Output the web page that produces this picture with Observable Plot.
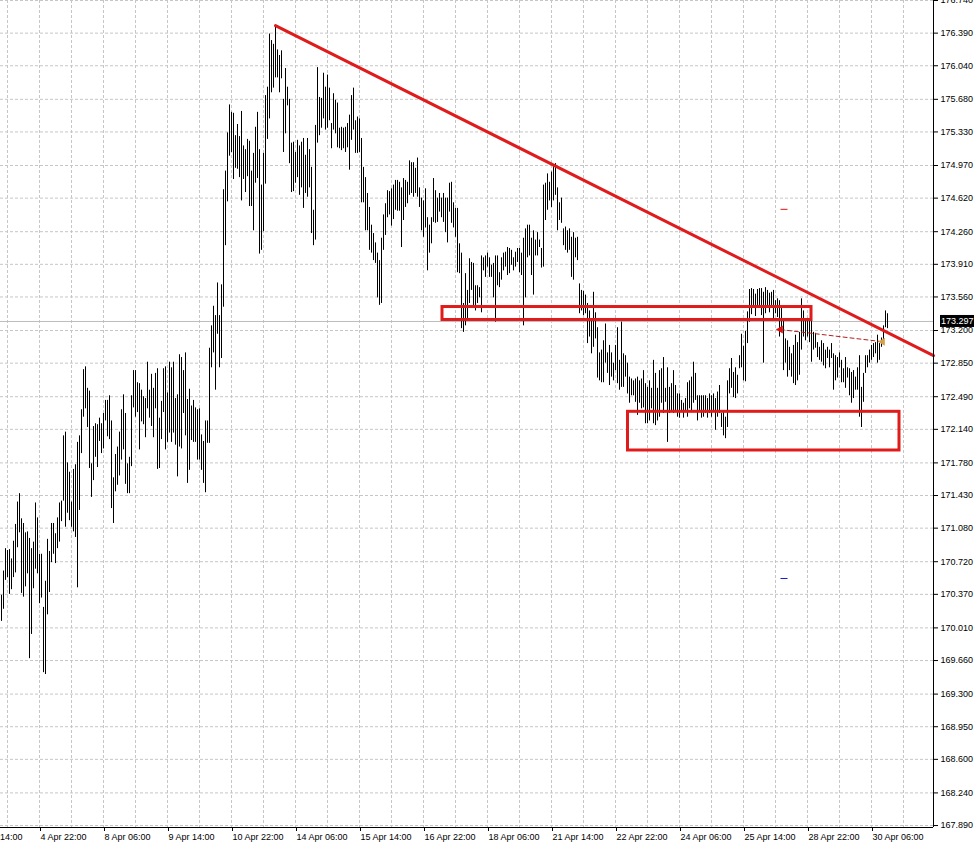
<!DOCTYPE html>
<html><head><meta charset="utf-8">
<script src="https://cdn.jsdelivr.net/npm/d3@7"></script>
<script src="https://cdn.jsdelivr.net/npm/@observablehq/plot@0.6"></script>
<style>
html,body{margin:0;padding:0;background:#fff;overflow:hidden}
</style></head><body><div id="chart"></div>
<script>
// Hourly bar highs / lows (one value per bar, oldest first)
const highs = [
170.36,170.62,170.86,170.84,170.85,170.75,170.94,171.12,171.36,171.45,
171.18,171.13,171.03,171.04,170.97,170.86,170.93,171.35,171.19,170.80,
170.80,170.23,170.51,170.96,170.83,171.13,171.13,171.02,171.19,171.35,
171.37,172.07,172.11,171.78,171.68,171.36,171.71,171.76,172.00,172.07,
172.35,172.78,172.81,172.58,172.55,171.77,172.17,172.20,172.19,172.26,
172.20,172.31,172.45,172.45,172.50,172.23,171.62,171.87,171.95,172.11,
172.35,172.51,172.31,171.77,171.84,172.50,172.77,172.77,172.64,172.63,
172.56,172.49,172.47,172.86,172.56,172.73,172.58,172.74,172.79,172.26,
172.44,172.79,172.81,172.53,172.86,172.80,172.86,172.47,172.51,172.94,
172.91,172.77,172.96,172.46,172.57,172.39,172.45,172.37,172.35,172.36,
172.08,172.01,172.23,172.23,173.01,173.25,173.46,173.36,173.71,173.36,
173.69,174.71,174.91,175.32,175.62,175.54,175.53,175.29,175.41,175.28,
175.55,175.18,175.14,175.25,175.23,174.91,175.10,175.38,175.54,175.14,
174.76,175.10,175.72,175.81,176.38,176.31,176.27,176.47,176.21,176.15,
176.20,175.68,176.01,175.81,175.68,175.21,175.22,175.11,175.24,175.18,
175.22,175.26,175.08,175.26,175.14,174.95,174.49,175.40,176.02,175.70,
175.69,175.96,175.81,175.94,175.80,175.42,175.74,175.67,175.64,175.37,
175.38,175.37,175.38,175.42,175.51,175.72,175.80,175.45,175.49,175.47,
175.26,174.95,174.84,174.67,174.52,174.33,174.24,174.14,174.03,173.95,
174.19,174.44,174.56,174.70,174.69,174.72,174.76,174.81,174.81,174.79,
174.73,174.83,174.81,174.79,175.02,175.00,175.00,174.94,175.05,174.73,
174.62,174.59,174.72,174.41,174.33,174.41,174.83,174.70,174.62,174.67,
174.62,174.67,174.62,174.62,174.78,174.79,174.57,174.51,174.51,174.13,
174.03,173.49,173.81,173.63,173.97,173.93,173.92,173.68,173.68,173.66,
174.00,173.98,174.00,174.03,173.98,173.90,173.92,174.00,174.00,173.82,
173.98,174.03,174.04,174.09,174.08,174.06,173.98,174.04,174.08,174.08,
174.03,174.19,174.29,174.33,174.33,174.19,174.27,174.17,174.25,174.17,
174.08,174.76,174.78,174.88,174.79,174.90,174.97,174.99,174.73,174.57,
174.62,174.29,174.31,174.27,174.29,174.20,174.25,174.19,174.20,173.70,
173.63,173.62,173.58,173.49,173.41,173.31,173.61,173.39,173.23,172.96,
172.99,173.09,173.27,172.96,173.04,172.96,172.85,173.04,173.23,172.88,
173.29,172.95,172.93,172.85,172.70,172.68,172.66,172.68,172.70,172.66,
172.68,172.77,172.63,172.59,172.66,172.58,172.88,172.74,172.58,172.77,
172.79,172.91,172.58,172.80,172.59,172.63,172.77,172.61,172.52,172.52,
172.45,172.42,172.47,172.64,172.66,172.70,172.86,172.74,172.50,172.50,
172.50,172.50,172.50,172.47,172.52,172.50,172.52,172.47,172.54,172.61,
172.31,172.32,172.27,172.66,172.79,172.90,172.75,172.80,172.72,172.93,
173.16,173.03,173.19,173.40,173.64,173.65,173.64,173.59,173.64,173.65,
173.65,173.61,173.66,173.63,173.60,173.61,173.63,173.52,173.54,173.52,
173.45,173.31,173.11,173.09,173.02,172.95,173.04,173.15,173.07,173.18,
173.54,173.41,173.31,173.33,173.31,173.31,173.18,173.17,173.07,173.02,
173.09,173.06,172.99,173.02,172.99,173.06,172.95,172.93,172.91,172.96,
172.88,172.79,172.91,172.80,172.79,172.75,172.77,172.70,172.80,172.93,
172.59,172.74,172.93,172.93,172.99,173.04,173.06,173.07,173.15,173.06,
173.12,173.25,173.41,173.38
];
const lows = [
170.08,170.21,170.52,170.55,170.37,170.42,170.55,170.60,170.87,171.03,
170.38,170.34,170.45,170.59,169.68,169.94,170.43,170.64,170.59,170.27,
170.33,169.53,169.51,170.15,170.39,170.71,170.80,170.70,170.86,170.93,
171.15,171.37,171.09,171.24,171.16,171.09,171.04,170.98,170.44,171.27,
171.88,172.27,172.36,172.16,171.72,171.41,171.59,171.84,171.73,172.01,
171.88,171.93,172.23,172.06,172.03,171.29,171.13,171.47,171.54,171.64,
171.81,171.92,171.55,171.45,171.45,171.74,172.37,172.27,172.32,171.92,
172.22,172.19,172.05,172.36,172.26,172.17,172.05,172.36,171.71,171.72,
172.03,172.32,171.92,172.00,172.10,172.00,172.10,171.97,171.63,171.95,
171.93,172.31,172.07,171.56,171.70,172.02,172.00,172.00,171.81,171.81,
171.70,171.56,171.46,171.99,171.99,172.80,172.96,172.56,173.16,172.80,
172.90,173.45,174.11,174.58,175.07,175.11,174.82,174.94,174.93,174.84,
174.59,174.82,174.68,174.85,174.53,174.53,174.27,174.78,174.83,174.02,
174.06,174.26,174.77,175.25,175.47,175.75,175.80,175.91,175.91,175.75,
175.90,175.11,175.31,175.61,174.99,174.68,174.69,174.78,174.84,174.65,
174.73,174.51,174.67,174.63,174.73,174.24,174.11,174.17,175.21,175.29,
175.37,175.47,175.35,175.37,175.45,175.15,175.35,175.31,175.16,175.15,
175.13,175.15,175.11,175.16,174.92,175.24,175.35,175.10,175.10,175.11,
174.57,174.57,174.27,174.27,174.06,174.03,173.95,173.92,173.55,173.47,
173.49,174.06,174.22,174.41,174.44,174.32,174.39,174.49,174.48,174.48,
174.09,174.38,174.52,174.56,174.65,174.67,174.63,174.67,174.63,174.52,
174.27,174.20,174.30,173.84,174.03,174.13,174.36,174.35,174.36,174.47,
174.41,174.36,174.25,174.14,174.47,174.35,174.30,174.20,173.82,173.81,
173.22,173.18,173.25,173.31,173.49,173.63,173.45,173.41,173.49,173.55,
173.39,173.84,173.77,173.88,173.77,173.77,173.55,173.29,173.68,173.66,
173.74,173.84,173.88,173.79,173.81,173.90,173.84,173.88,173.93,173.82,
173.79,173.25,173.55,173.98,174.00,173.79,173.58,174.00,174.00,174.09,
173.87,173.88,174.38,174.49,174.59,174.52,174.59,174.65,174.27,174.38,
174.35,174.11,174.06,174.03,174.06,173.77,173.74,173.98,173.95,173.38,
173.41,173.36,173.38,173.06,173.13,172.95,173.02,173.11,172.69,172.66,
172.64,172.64,172.85,172.74,172.61,172.70,172.66,172.77,172.63,172.56,
172.59,172.59,172.70,172.52,172.42,172.50,172.50,172.43,172.29,172.42,
172.36,172.37,172.20,172.20,172.23,172.36,172.20,172.18,172.23,172.27,
172.42,172.31,172.43,172.00,172.31,172.34,172.31,172.32,172.27,172.26,
172.32,172.26,172.32,172.27,172.36,172.34,172.42,172.45,172.23,172.34,
172.26,172.27,172.31,172.26,172.31,172.27,172.32,172.13,172.27,172.31,
172.16,172.07,172.04,172.16,172.52,172.58,172.48,172.47,172.52,172.79,
172.80,172.66,172.65,173.06,173.29,173.37,173.44,173.35,173.45,173.45,
173.36,172.85,173.38,173.45,173.39,173.45,173.31,173.38,173.34,173.13,
173.22,172.77,172.85,172.70,172.77,172.70,172.63,172.61,172.66,172.72,
172.99,173.13,173.09,173.13,173.07,172.86,172.99,173.01,172.91,172.88,
172.86,172.82,172.79,172.90,172.80,172.90,172.56,172.66,172.69,172.80,
172.64,172.64,172.58,172.69,172.50,172.42,172.47,172.56,172.56,172.27,
172.16,172.43,172.74,172.80,172.85,172.88,172.91,172.95,172.85,172.88,
173.02,173.09,173.23,173.22
];

const priceTicks = [176.740,176.390,176.040,175.680,175.330,174.970,174.620,174.260,173.910,173.560,
  173.200,172.850,172.490,172.140,171.780,171.430,171.080,170.720,170.370,170.010,
  169.660,169.300,168.950,168.600,168.240,167.890];
const dateLabels = ["3 Apr 14:00","4 Apr 22:00","8 Apr 06:00","9 Apr 14:00","10 Apr 22:00","14 Apr 06:00",
  "15 Apr 14:00","16 Apr 22:00","18 Apr 06:00","21 Apr 14:00","22 Apr 22:00","24 Apr 06:00",
  "25 Apr 14:00","28 Apr 22:00","30 Apr 06:00"];
const dateTickIdx = [-13,19,51,83,115,147,179,211,243,275,307,339,371,403,435];
const gridIdx = [3,19,35,51,67,83,99,115,131,147,163,179,195,211,227,243,259,275,291,307,323,339,355,371,387,403,419,435,451];
const currentPrice = 173.297;
const trendLine = [{i:137, p:176.47}, {i:466, p:172.93}];
const zones = [
  {i1:220.5, i2:405, p1:173.313, p2:173.452},
  {i1:313.25, i2:449, p1:171.913, p2:172.328}
];
const dashedLine = [{i:389.5, p:173.21}, {i:440.5, p:173.08}];
const levelMarks = [
  {i1:389.5, i2:393, p:174.50, c:"#e01010"},
  {i1:389.5, i2:393, p:170.54, c:"#1a1ad0"}
];
const xDomain = [-0.5, 466];
const yDomain = [167.869, 176.740];

const RED = "#e01b1b";
const GRID = "#c6c6c6";

const chart = Plot.plot({
  width: 974, height: 848,
  marginTop: 0, marginLeft: 0, marginRight: 41, marginBottom: 21,
  x: {domain: xDomain, axis: null},
  y: {domain: yDomain, axis: null},
  style: {fontFamily: "'Liberation Sans', Arial, sans-serif", fontSize: "9px", color: "black", background: "white"},
  marks: [
    Plot.gridY(priceTicks, {stroke: GRID, strokeOpacity: 1, strokeDasharray: "3,2"}),
    Plot.gridX(gridIdx, {stroke: GRID, strokeOpacity: 1, strokeDasharray: "3,2"}),
    Plot.ruleY([currentPrice], {stroke: "#bdbdbd"}),
    Plot.ruleX(highs, {x: (d, i) => i, y1: (d, i) => lows[i], y2: d => d, stroke: "black", strokeWidth: 1}),
    Plot.rect(zones, {x1: "i1", x2: "i2", y1: "p1", y2: "p2", fill: "none", stroke: RED, strokeWidth: 3}),
    Plot.line(trendLine, {x: "i", y: "p", stroke: RED, strokeWidth: 3}),
    Plot.line(dashedLine, {x: "i", y: "p", stroke: "#b42020", strokeWidth: 1, strokeDasharray: "4,3"}),
    Plot.dot(dashedLine.slice(0, 1), {x: "i", y: "p", symbol: "triangle", rotate: -90, r: 3, fill: "#e01010", stroke: "none"}),
    Plot.dot(dashedLine.slice(1), {x: "i", y: "p", symbol: "triangle", rotate: -90, r: 3, fill: "#d4a048", stroke: "none"}),
    Plot.link(levelMarks, {x1: "i1", x2: "i2", y1: "p", y2: "p", stroke: "c", strokeWidth: 1}),
    Plot.ruleX([xDomain[1]], {stroke: "black"}),
    Plot.ruleY([yDomain[0]], {stroke: "black"}),
    Plot.axisY(priceTicks, {anchor: "right", tickSize: 4, tickPadding: 3, tickFormat: d => d.toFixed(3)}),
    Plot.axisX(dateTickIdx, {anchor: "bottom", tickSize: 4, tickPadding: 2, textAnchor: "start", dx: 1,
      tickFormat: d => dateLabels[dateTickIdx.indexOf(d)]})
  ]
});

document.getElementById("chart").appendChild(chart);

// current price tag on the price axis
const yv = chart.scale("y").apply(currentPrice);
const xr = chart.scale("x").range[1];
const svg = d3.select(chart);
svg.append("rect").attr("x", xr + 7).attr("y", yv - 6).attr("width", 974 - xr - 7).attr("height", 12).attr("fill", "black");
svg.append("text").attr("x", xr + 8).attr("y", yv).attr("dy", "0.35em").attr("fill", "white")
  .attr("text-anchor", "start").attr("font-size", 9).text(currentPrice.toFixed(3));
</script>
</body></html>
